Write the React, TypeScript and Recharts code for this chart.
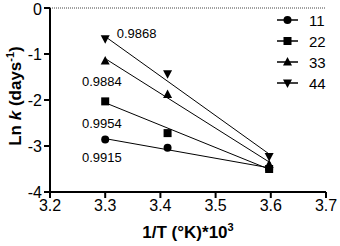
import React from 'react';
import {
  ComposedChart,
  Scatter,
  XAxis,
  YAxis,
  ReferenceLine,
  ReferenceDot,
  Legend,
} from 'recharts';

const xValues = [3.3, 3.413, 3.597];
const series11 = [-2.86, -3.04, -3.5];
const series22 = [-2.03, -2.72, -3.5];
const series33 = [-1.15, -1.88, -3.4];
const series44 = [-0.67, -1.43, -3.23];

const fitX = [3.3, 3.6];
const fit11 = [-2.84, -3.48];
const fit22 = [-2.06, -3.52];
const fit33 = [-1.1, -3.37];
const fit44 = [-0.62, -3.2];

const seriesNames = ['11', '22', '33', '44'];
const seriesShapes = ['circle', 'square', 'triangle', 'invtriangle'];
const rSquared = ['0.9915', '0.9954', '0.9884', '0.9868'];
const labelX = [3.258, 3.258, 3.258, 3.321];
const labelY = [-3.24, -2.5, -1.6, -0.545];

const xTicks = [3.2, 3.3, 3.4, 3.5, 3.6, 3.7];
const yTicks = [-4, -3, -2, -1, 0];

const FONT = 'Liberation Sans, Arial, sans-serif';

const toPoints = (xs: number[], ys: number[]) => xs.map((x, i) => ({ x, y: ys[i] }));

const pointSets = [series11, series22, series33, series44].map((s) => toPoints(xValues, s));
const fitSets = [fit11, fit22, fit33, fit44].map((s) => toPoints(fitX, s));

function MarkerShape({ type, cx, cy }: { type: string; cx: number; cy: number }) {
  if (type === 'circle') return <circle cx={cx} cy={cy} r={4} fill="#000" />;
  if (type === 'square') return <rect x={cx - 4} y={cy - 4} width={8} height={8} fill="#000" />;
  if (type === 'triangle')
    return <polygon points={`${cx},${cy - 5} ${cx + 4.5},${cy + 3.5} ${cx - 4.5},${cy + 3.5}`} fill="#000" />;
  return <polygon points={`${cx},${cy + 5} ${cx + 4.5},${cy - 3.5} ${cx - 4.5},${cy - 3.5}`} fill="#000" />;
}

const renderLegend = () => (
  <svg width={70} height={86} style={{ display: 'block' }}>
    {seriesNames.map((name, i) => {
      const cy = 10 + i * 21;
      return (
        <g key={name}>
          <line x1={2} x2={23} y1={cy} y2={cy} stroke="#000" strokeWidth={1.5} />
          <MarkerShape type={seriesShapes[i]} cx={12.5} cy={cy} />
          <text x={34} y={cy} dominantBaseline="central" fontFamily={FONT} fontSize={15} fill="#000">
            {name}
          </text>
        </g>
      );
    })}
  </svg>
);

export default function App() {
  return (
    <div style={{ position: 'absolute', left: 0, top: 0 }}>
      <ComposedChart width={340} height={246} margin={{ top: 8, right: 14, bottom: 0, left: 0 }}>
        <XAxis
          type="number"
          dataKey="x"
          domain={[3.2, 3.7]}
          ticks={xTicks}
          tickFormatter={(v: number) => v.toFixed(1)}
          allowDataOverflow
          height={54}
          axisLine={{ stroke: '#000', strokeWidth: 2 }}
          tickLine={{ stroke: '#000', strokeWidth: 2 }}
          tickSize={6}
          tick={{ fill: '#000', fontSize: 16, fontFamily: FONT }}
          label={{
            content: () => (
              <text x={188} y={238} textAnchor="middle" fontFamily={FONT} fontSize={17} fontWeight="bold" fill="#000">
                1/T (°K)*10
                <tspan dy={-7} fontSize={11}>3</tspan>
              </text>
            ),
          }}
        />
        <YAxis
          type="number"
          dataKey="y"
          domain={[-4, 0]}
          ticks={yTicks}
          allowDataOverflow
          width={50}
          axisLine={{ stroke: '#000', strokeWidth: 2 }}
          tickLine={{ stroke: '#000', strokeWidth: 2 }}
          tickSize={6}
          tick={{ fill: '#000', fontSize: 16, fontFamily: FONT }}
          label={{
            content: () => (
              <text
                x={21}
                y={96}
                transform="rotate(-90 21 96)"
                textAnchor="middle"
                fontFamily={FONT}
                fontSize={17}
                fontWeight="bold"
                fill="#000"
              >
                Ln <tspan fontStyle="italic">k</tspan> (days
                <tspan dy={-7} fontSize={11}>-1</tspan>
                <tspan dy={7}>)</tspan>
              </text>
            ),
          }}
        />
        <ReferenceLine y={0} stroke="#444" strokeDasharray="1 1" strokeWidth={1} />
        {fitSets.map((pts, i) => (
          <Scatter
            key={`fit-${i}`}
            data={pts}
            line={{ stroke: '#000', strokeWidth: 1 }}
            shape={() => <g />}
            legendType="none"
            isAnimationActive={false}
          />
        ))}
        {pointSets.map((pts, i) => (
          <Scatter
            key={`pts-${i}`}
            name={seriesNames[i]}
            data={pts}
            shape={(p: any) => <MarkerShape type={seriesShapes[i]} cx={p.cx} cy={p.cy} />}
            isAnimationActive={false}
          />
        ))}
        {rSquared.map((t, i) => (
          <ReferenceDot
            key={`lbl-${i}`}
            x={labelX[i]}
            y={labelY[i]}
            r={0}
            shape={() => <g />}
            label={{
              content: (props: any) => {
                const vb = props.viewBox || {};
                const cx = vb.cx !== undefined ? vb.cx : vb.x + (vb.width || 0) / 2;
                const cy = vb.cy !== undefined ? vb.cy : vb.y + (vb.height || 0) / 2;
                return (
                  <text x={cx} y={cy} dominantBaseline="central" textAnchor="start" fontFamily={FONT} fontSize={13} fill="#000">
                    {t}
                  </text>
                );
              },
            }}
          />
        ))}
        <Legend
          layout="horizontal"
          verticalAlign="middle"
          align="center"
          content={renderLegend}
          wrapperStyle={{ top: 10, left: 275, width: 70, height: 86 }}
        />
      </ComposedChart>
    </div>
  );
}
